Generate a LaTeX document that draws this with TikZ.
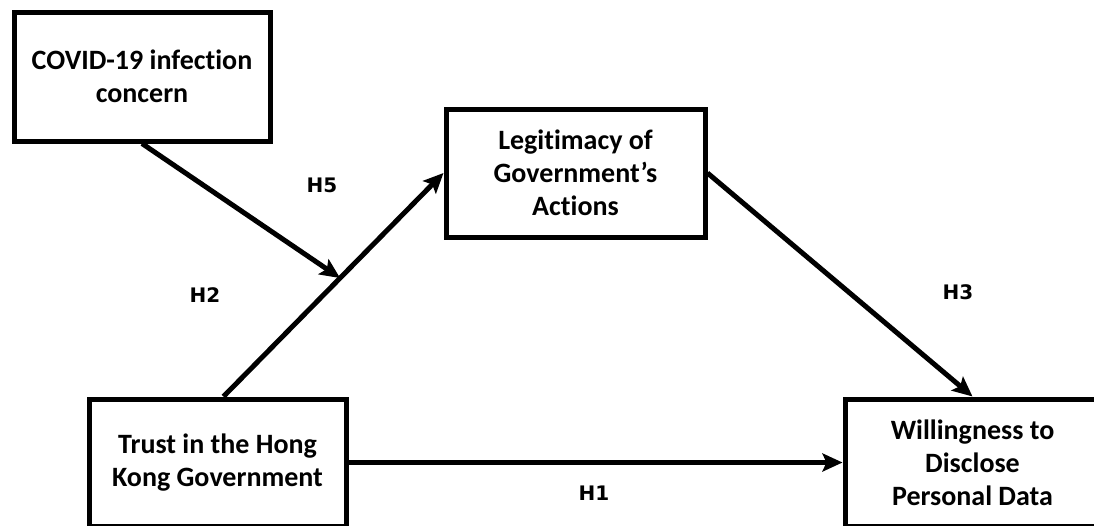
\documentclass[tikz,border=0pt]{standalone}
\usepackage{fontspec}
\setmainfont[Ligatures=NoCommon]{Carlito}
\newfontfamily\labelfont{DejaVu Sans}
\usetikzlibrary{arrows.meta,calc}
\begin{document}
\begin{tikzpicture}[x=1pt,y=-1pt,
  box/.style={draw=black,line width=5pt,fill=white,align=center,inner sep=0pt,
    font=\fontsize{28}{33}\selectfont\bfseries},
  conn/.style={line width=5pt,-{Stealth[length=20pt,width=18pt,inset=4pt]}},
  hlabel/.style={font=\labelfont\fontsize{20}{22}\selectfont\bfseries}]
\useasboundingbox (0,0) rectangle (1094,525);
\fill[white] (0,0) rectangle (1094,525);
\node[box,minimum width=256pt,minimum height=129pt] (covid) at (142,76.5) {COVID-19 infection\\concern};
\node[box,minimum width=259pt,minimum height=128pt] (legit) at (575.5,173) {Legitimacy of\\Government’s\\Actions};
\node[box,minimum width=257pt,minimum height=127pt] (trust) at (217.5,462.5) {Trust in the Hong\\Kong Government};
\node[box,minimum width=255pt,minimum height=127pt] (will) at (972.5,462.5) {Willingness to\\Disclose\\Personal Data};
\coordinate (tstart) at ([xshift=137pt]trust.north west);
\coordinate (mid) at ($(tstart)!0.53!(legit.west)$);
\draw[conn] (tstart) -- (legit.west);
\draw[conn] (covid.south) -- (mid);
\draw[conn] (legit.east) -- (will.north);
\draw[conn] (trust.east) -- (will.west);
\node[hlabel] (h5) at (322,185) {H5};
\node[hlabel] (h2) at (205,295) {H2};
\node[hlabel] (h3) at (958,292) {H3};
\node[hlabel] (h1) at (594,493) {H1};
\end{tikzpicture}
\end{document}
